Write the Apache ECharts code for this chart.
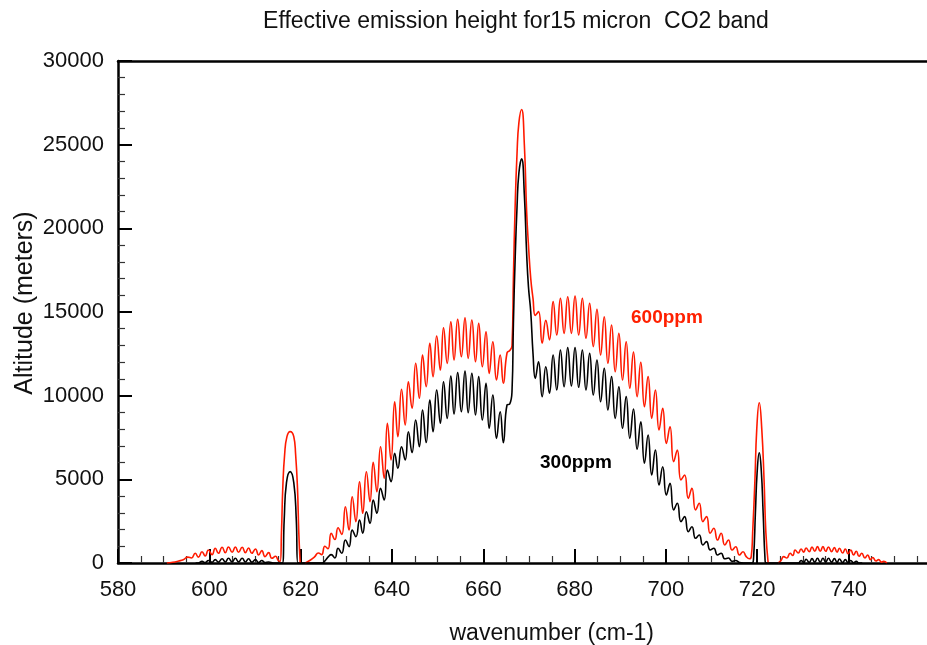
<!DOCTYPE html>
<html>
<head>
<meta charset="utf-8">
<script src="https://cdn.jsdelivr.net/npm/echarts@6/dist/echarts.min.js"></script>
<style>html,body{margin:0;padding:0;background:#fff}#c{width:927px;height:645px}</style>
</head>
<body>
<div id="c"></div>
<script>
// ---- data ----
var xTicks = [580, 600, 620, 640, 660, 680, 700, 720, 740];
var yTicks = [0, 5000, 10000, 15000, 20000, 25000, 30000];

// 600 ppm curve (red)
var wn600 = [590.7,592.0,593.3,594.3,595.3,596.1,596.9,597.6,598.4,599.1,599.8,600.6,601.3,602.0,602.8,603.5,604.2,605.0,605.7,606.4,607.2,607.9,608.6,609.3,610.1,610.8,611.5,612.2,613.0,613.7,614.5,615.1,615.5,615.8,616.1,616.5,617.0,617.7,618.5,618.9,619.3,619.6,619.9,620.4,
621.0,622.0,623.0,623.9,624.6,625.3,626.0,626.7,627.5,628.2,629.0,629.8,630.6,631.3,632.1,632.9,633.6,634.4,635.2,635.9,636.7,637.5,638.3,639.0,639.8,640.6,641.3,642.1,642.9,643.6,644.4,645.2,646.0,646.7,647.5,648.3,649.0,649.8,650.6,651.3,652.1,652.9,653.6,654.4,655.2,656.0,656.7,657.5,658.3,659.0,659.8,660.6,661.3,662.1,662.9,663.7,664.4,665.2,665.8,
666.3,666.6,667.0,667.4,667.8,668.4,669.0,669.5,669.9,670.4,670.9,671.4,
672.1,672.9,673.7,674.5,675.3,676.1,676.9,677.7,678.5,679.3,680.1,680.9,681.7,682.5,683.3,684.1,684.9,685.7,686.5,687.3,688.1,688.9,689.7,690.5,691.3,692.1,692.9,693.7,694.5,695.3,696.1,696.9,697.7,698.5,699.3,700.1,700.9,701.7,702.5,703.3,704.1,704.9,705.7,706.5,707.3,708.1,708.9,709.7,710.5,711.3,712.1,712.9,713.7,714.5,715.3,716.1,716.9,717.6,718.3,
718.7,719.0,719.5,719.9,720.45,721.0,721.5,721.9,722.4,723.5,
724.6,725.2,725.8,726.5,727.2,727.8,728.3,729.0,729.6,730.2,730.7,731.4,732.0,732.6,733.2,733.8,734.4,735.0,735.6,736.3,736.9,737.5,738.0,738.7,739.3,739.9,740.5,741.1,741.7,742.3,742.9,743.6,744.2,744.8,745.3,746.0,746.6,747.2,747.7,748.4];
var alt600 = [0,40,120,200,350,300,580,350,675,420,775,500,880,580,940,620,960,640,960,640,940,620,900,580,840,480,740,380,620,280,400,150,100,1800,4560,6500,7550,7850,7550,6500,4560,1800,0,null,
0,150,350,600,500,1000,850,1775,1400,2110,1700,3365,1970,3960,2470,4860,2970,5455,3665,6015,4260,6950,5060,8350,6155,9640,7550,10380,8245,10835,9245,11935,9850,12430,10540,13130,11130,13565,11530,14060,11930,14420,12130,14560,12330,14660,12230,14520,12030,14320,11730,13820,11335,13225,10935,12430,10740,12550,12700,
13000,17000,21500,24500,26300,27100,25000,21000,19000,17000,15800,14800,
15020,13130,14500,13330,15620,13625,15820,13725,15915,13725,15955,13625,15820,13430,15520,12930,15160,12430,14720,11935,14220,11430,13725,10935,13225,10440,12600,9940,12000,9340,11135,8645,10340,7950,9245,7150,8145,6055,6750,4960,5260,3865,4465,3165,3570,2470,2770,1775,2075,1375,1775,1075,1375,775,975,480,675,380,250,
400,1800,4960,8000,9580,8000,4960,1800,0,null,
0,150,380,300,580,450,775,600,840,650,900,680,960,700,980,700,980,700,960,680,920,650,880,600,840,550,775,480,700,400,580,300,480,200,330,120,200,50,100,0];

// 300 ppm curve (black)
var wn300 = [597.0,597.6,598.4,599.1,599.8,600.6,601.3,602.0,602.8,603.5,604.2,605.0,605.7,606.4,607.2,607.9,608.6,609.3,610.1,610.8,611.5,612.2,613.0,614.0,616.0,616.4,616.9,617.7,618.5,619.05,619.4,
624.7,625.4,626.1,626.7,627.5,628.2,629.0,629.8,630.6,631.3,632.1,632.9,633.6,634.4,635.2,635.9,636.7,637.5,638.3,639.0,639.8,640.6,641.3,642.1,642.9,643.6,644.4,645.2,646.0,646.7,647.5,648.3,649.0,649.8,650.6,651.3,652.1,652.9,653.6,654.4,655.2,656.0,656.7,657.5,658.3,659.0,659.8,660.6,661.3,662.1,662.9,663.7,664.4,665.2,665.8,
666.3,666.6,667.0,667.4,667.8,668.4,669.0,669.5,669.9,670.4,670.9,671.4,
672.1,672.9,673.7,674.5,675.3,676.1,676.9,677.7,678.5,679.3,680.1,680.9,681.7,682.5,683.3,684.1,684.9,685.7,686.5,687.3,688.1,688.9,689.7,690.5,691.3,692.1,692.9,693.7,694.5,695.3,696.1,696.9,697.7,698.5,699.3,700.1,700.9,701.7,702.5,703.3,704.1,704.9,705.7,706.5,707.3,708.1,708.9,709.7,710.5,711.3,712.1,712.9,713.7,714.5,715.3,716.1,717.0,
718.9,719.2,719.6,720.0,720.45,720.9,721.3,721.7,721.9,
729.0,729.6,730.2,730.7,731.4,732.0,732.6,733.2,733.8,734.4,735.0,735.6,736.3,736.9,737.5,738.0,738.7,739.3,739.9,740.5,741.1,741.7,742.3,743.0];
var alt300 = [0,0,100,20,150,40,200,50,250,60,280,70,280,70,280,60,250,50,200,30,150,20,60,0,0,2570,4800,5460,4800,2570,0,
0,150,380,500,300,880,580,1375,975,1970,1570,2570,1775,3065,2370,3765,2970,4465,3765,5560,4860,6555,5660,6950,6155,7845,6600,8545,6950,9145,7200,9740,7845,10340,8350,10835,8645,11175,8900,11375,9040,11475,8980,11335,8845,11135,8545,10740,8050,10040,7450,9040,7190,9440,9500,
10300,14300,18300,21300,23300,24150,22000,18500,16500,15000,12500,11035,
12030,9940,11730,10140,12430,10340,12730,10535,12870,10580,12870,10500,12730,10340,12530,10040,12130,9640,11635,9145,11135,8645,10535,8050,9940,7450,9200,6800,8445,5960,7650,5260,6750,4660,5755,4065,4760,3165,3570,2470,2770,1870,2170,1475,1675,1075,1275,775,880,480,580,250,300,100,150,30,0,
0,300,2970,5500,6590,5500,2970,300,0,
0,150,30,220,40,260,50,280,50,280,50,280,50,260,40,240,30,200,20,150,10,100,0,0];

var labels = [{text: '600ppm', color: '#ff2000', x: 631, y: 319}, {text: '300ppm', color: '#000000', x: 540, y: 464}];

function pairs(xs, ys) {
  return xs.map(function (x, i) { return [x, ys[i] === null ? '-' : ys[i]]; });
}

var chart = echarts.init(document.getElementById('c'), null, {renderer: 'canvas'});
var FONT = 'Liberation Sans';
var graphics = labels.map(function (l) {
  return {type: 'text', left: l.x, top: l.y - 11,
    style: {text: l.text, fill: l.color, font: 'bold 19px "Liberation Sans"'}};
});
graphics.push({type: 'text', x: 25, y: 303, rotation: Math.PI / 2,
  style: {text: 'Altitude (meters)', fill: '#111', font: '25px "Liberation Sans"', textAlign: 'center', textVerticalAlign: 'middle'}});
chart.setOption({
  animation: false,
  backgroundColor: '#fff',
  title: {
    text: 'Effective emission height for15 micron  CO2 band',
    left: 511, top: 5, textAlign: 'center',
    textStyle: {fontFamily: FONT, fontSize: 23, fontWeight: 'normal', color: '#111'}
  },
  grid: {left: 118, top: 61, width: 867.5, height: 502, containLabel: false, outerBoundsMode: 'none'},
  xAxis: [{
    type: 'value', min: 580, max: 770, interval: 20,
    name: 'wavenumber (cm-1)', nameLocation: 'middle', nameGap: 59,
    nameTextStyle: {fontFamily: FONT, fontSize: 23, color: '#111'},
    axisLine: {show: true, lineStyle: {color: '#000', width: 2.5}},
    axisTick: {show: true, inside: true, length: 14, lineStyle: {color: '#000', width: 2}},
    minorTick: {show: true, splitNumber: 4, length: 7, lineStyle: {color: '#333', width: 1.2}},
    splitLine: {show: false},
    axisLabel: {margin: 16, fontFamily: FONT, fontSize: 22, color: '#111', showMaxLabel: false,
      formatter: function (v) { return xTicks.indexOf(v) >= 0 ? String(v) : ''; }}
  }, {
    type: 'value', position: 'top', min: 580, max: 770,
    axisLine: {show: true, onZero: false, lineStyle: {color: '#000', width: 2.5}},
    axisTick: {show: false}, axisLabel: {show: false}, splitLine: {show: false}
  }],
  yAxis: {
    type: 'value', min: 0, max: 30000, interval: 5000,
    axisLine: {show: true, lineStyle: {color: '#000', width: 2.5}},
    axisTick: {show: true, inside: true, length: 14, lineStyle: {color: '#000', width: 2}},
    minorTick: {show: true, splitNumber: 5, length: 7, lineStyle: {color: '#333', width: 1.2}},
    splitLine: {show: false},
    axisLabel: {margin: 14, fontFamily: FONT, fontSize: 22, color: '#111',
      formatter: function (v) { return yTicks.indexOf(v) >= 0 ? String(v) : ''; }}
  },
  series: [{
    name: '300ppm', type: 'line', data: pairs(wn300, alt300), showSymbol: false, smooth: 0.5,
    lineStyle: {color: '#000', width: 1.6}, z: 3
  }, {
    name: '600ppm', type: 'line', data: pairs(wn600, alt600), showSymbol: false, smooth: 0.5,
    connectNulls: false, lineStyle: {color: '#ff1a00', width: 1.6}, z: 2
  }],
  graphic: graphics
});
</script>
</body>
</html>
